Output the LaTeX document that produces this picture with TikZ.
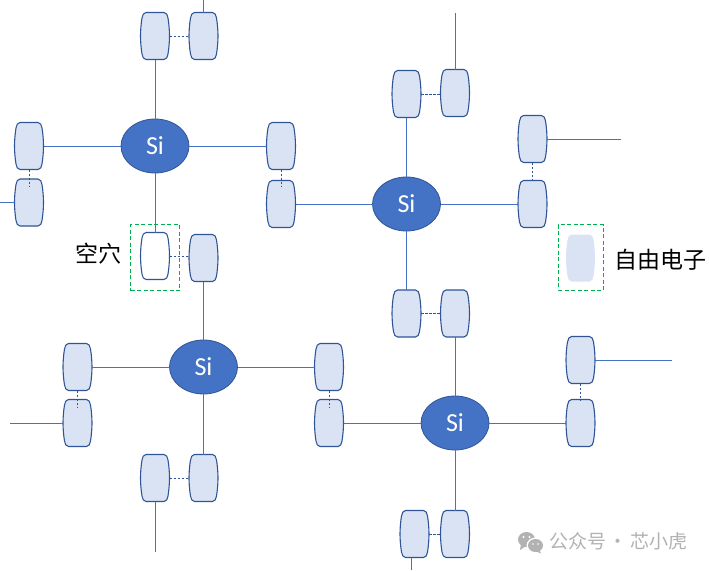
\documentclass[tikz,border=0pt]{standalone}
\usepackage{fontspec}
\setmainfont{Carlito}
\newfontfamily\cjk{Noto Sans CJK SC}
\usetikzlibrary{shapes.geometric}
\definecolor{linec}{HTML}{4472C4}
\definecolor{edgec}{HTML}{2F5597}
\definecolor{cellc}{HTML}{DAE3F3}
\definecolor{greenc}{HTML}{00B050}
\definecolor{markc}{HTML}{B2B2B2}
\tikzset{
  slot/.style={minimum width=29pt,minimum height=47pt,inner sep=0pt,outer sep=0pt},
  siatom/.style={ellipse,draw=edgec,fill=linec,line width=0.8pt,minimum width=68pt,minimum height=54pt,inner sep=0pt,outer sep=0pt,text=white,font=\fontsize{26}{26}\selectfont},
  bond/.style={linec,line width=0.9pt},
  weak/.style={edgec,line width=0.9pt,dash pattern=on 2.5pt off 1.5pt},
  frame/.style={greenc,line width=1pt,dash pattern=on 4pt off 2.5pt},
  label/.style={font=\cjk\fontsize{23}{23}\selectfont,text=black,inner sep=0pt},
  filled/.style={draw=edgec,fill=cellc,line width=1.1pt},
  hollow/.style={draw=edgec,fill=white,line width=1.1pt},
  bare/.style={fill=cellc},
}
\newcommand{\barrel}[4][filled]{%
  \node[slot] (#2) at (#3,#4) {};
  \path[#1,shift={(#3,#4)}] (-9,-23.5) -- (9,-23.5)
    .. controls (11.5,-23.5) and (12.4,-21) .. (13,-18)
    .. controls (14,-12) and (14.5,-5) .. (14.5,0)
    .. controls (14.5,5) and (14,12) .. (13,18)
    .. controls (12.4,21) and (11.5,23.5) .. (9,23.5)
    -- (-9,23.5)
    .. controls (-11.5,23.5) and (-12.4,21) .. (-13,18)
    .. controls (-14,12) and (-14.5,5) .. (-14.5,0)
    .. controls (-14.5,-5) and (-14,-12) .. (-13,-18)
    .. controls (-12.4,-21) and (-11.5,-23.5) .. (-9,-23.5) -- cycle;
}
\begin{document}
\begin{tikzpicture}[x=1pt,y=-1pt]
\useasboundingbox (0,0) rectangle (709,570);
% atoms
\node[siatom] (s1) at (155,146) {Si};
\node[siatom] (s2) at (406.5,204) {Si};
\node[siatom] (s3) at (203.5,367) {Si};
\node[siatom] (s4) at (455,423) {Si};
% cells
\barrel{a1}{155}{36}\barrel{a2}{203.5}{36}
\barrel{a3}{29}{146}\barrel{a4}{29}{202.5}
\barrel{a5}{281}{146}\barrel{a6}{281}{204}
\barrel[hollow]{a7}{155}{256}\barrel{a8}{203.5}{258}
\barrel{b1}{406.5}{94}\barrel{b2}{455}{93}
\barrel{b3}{532.5}{139}\barrel{b4}{532.5}{204}
\barrel{b5}{406.5}{313.5}\barrel{b6}{455}{313.5}
\barrel{c1}{77.5}{367}\barrel{c2}{77.5}{423}
\barrel{c3}{329}{367}\barrel{c4}{329}{423}
\barrel{c5}{155}{478}\barrel{c6}{203.5}{478}
\barrel{d1}{580.5}{360}\barrel{d2}{580.5}{423}
\barrel{d3}{414.5}{534}\barrel{d4}{455}{534}
\barrel[bare]{free}{580.5}{258}
% free ends
\coordinate (e1) at (203.5,0);
\coordinate (e2) at (0,202.5);
\coordinate (e3) at (455,13);
\coordinate (e4) at (621,139);
\coordinate (e5) at (10,423);
\coordinate (e6) at (155,552);
\coordinate (e7) at (672,360);
\coordinate (e8) at (411.5,570);
\coordinate (e9) at (411.5,557.5);
% solid bonds
\draw[bond] (a1.south) -- (s1.north);
\draw[bond] (a2.north) -- (e1);
\draw[bond] (a3.east) -- (s1.west);
\draw[bond] (a4.west) -- (e2);
\draw[bond] (s1.east) -- (a5.west);
\draw[bond] (s1.south) -- (a7.north);
\draw[bond] (a6.east) -- (s2.west);
\draw[bond] (b1.south) -- (s2.north);
\draw[bond] (b2.north) -- (e3);
\draw[bond] (b3.east) -- (e4);
\draw[bond] (s2.east) -- (b4.west);
\draw[bond] (s2.south) -- (b5.north);
\draw[bond] (a8.south) -- (s3.north);
\draw[bond] (c1.east) -- (s3.west);
\draw[bond] (c2.west) -- (e5);
\draw[bond] (s3.east) -- (c3.west);
\draw[bond] (s3.south) -- (c6.north);
\draw[bond] (c5.south) -- (e6);
\draw[bond] (b6.south) -- (s4.north);
\draw[bond] (c4.east) -- (s4.west);
\draw[bond] (s4.east) -- (d2.west);
\draw[bond] (d1.east) -- (e7);
\draw[bond] (s4.south) -- (d4.north);
\draw[bond] (e9) -- (e8);
% dashed bonds
\draw[weak] (a1.east) -- (a2.west);
\draw[weak] (a3.south) -- ++(0,17);
\draw[weak] (a5.south) -- ++(0,17);
\draw[weak] (a7.east) -- (a8.west |- a7.east);
\draw[weak] (b1.east) -- (b2.west |- b1.east);
\draw[weak] (b3.south) -- ++(0,17);
\draw[weak] (b5.east) -- (b6.west);
\draw[weak] (c1.south) -- ++(0,17);
\draw[weak] (c3.south) -- ++(0,17);
\draw[weak] (c5.east) -- (c6.west);
\draw[weak] (d1.south) -- ++(0,17);
\draw[weak] (d3.east) -- (d4.west);
% frames
\node[frame,draw,minimum width=49pt,minimum height=66pt,inner sep=0pt] (f1) at (155,257.5) {};
\node[frame,draw,minimum width=45pt,minimum height=66pt,inner sep=0pt] (f2) at (580.5,257.5) {};
% labels
\node[label] (l1) at (98,253.5) {空穴};
\node[label] (l2) at (660.5,260) {自由电子};
% watermark
\fill[markc] (526.5,539.5) ellipse (8.5 and 7.5);
\fill[markc] (521,544) -- (520,550) -- (526,546) -- cycle;
\fill[white] (535.5,545.5) ellipse (9 and 8);
\fill[markc] (535.5,545.5) ellipse (7.5 and 6.5);
\fill[markc] (539,549) -- (541,553.5) -- (535,551) -- cycle;
\fill[white] (523.5,537) circle (1.1) (529.5,537) circle (1.1) (533,544) circle (0.9) (538,544) circle (0.9);
\node[font=\cjk\fontsize{19}{19}\selectfont,text=markc,inner sep=0pt,anchor=west] (wm) at (549,541.5) {公众号\hspace{2.5pt}·\hspace{2.5pt}芯小虎};
\end{tikzpicture}
\end{document}
